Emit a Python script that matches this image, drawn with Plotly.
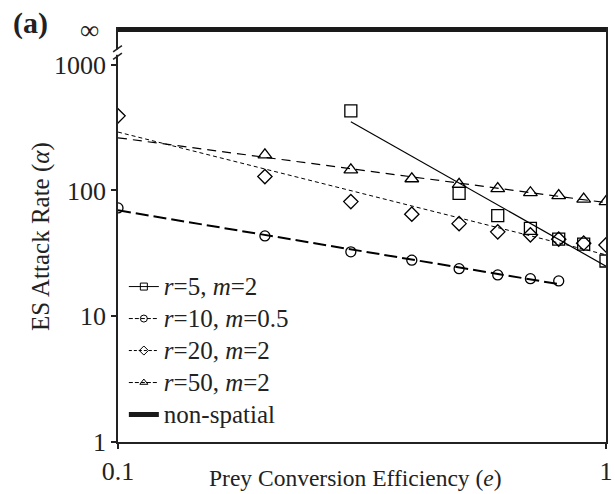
import numpy as np
import plotly.graph_objects as go

# Prey conversion efficiency (x) and ES attack rate for each parameter set
efficiency = [0.1, 0.2, 0.3, 0.4, 0.5, 0.6, 0.7, 0.8, 0.9, 1.0]
rate_r5_m2 = [None, None, 430, None, 95, 63, 50, 41, 37.4, 27.5]
rate_r10_m05 = [72.7, 43.5, 32.5, 27.9, 23.9, 21.3, 19.9, 19.1, None, None]
rate_r20_m2 = [392, 129, 81.6, 64.8, 54.5, 46.9, 44.4, 41, 38.1, 36.9]
rate_r50_m2 = [None, 192, 146, 124, 112, 103.5, 96, 91, 85.3, 81.6]

series_names = ["<i>r</i>=5, <i>m</i>=2", "<i>r</i>=10, <i>m</i>=0.5",
                "<i>r</i>=20, <i>m</i>=2", "<i>r</i>=50, <i>m</i>=2"]
series_rates = [rate_r5_m2, rate_r10_m05, rate_r20_m2, rate_r50_m2]
# first efficiency the fitted power-law trend is drawn from
trend_start = [None, None, None, 0.1]

y_tick_vals = [1, 10, 100, 1000]
x_tick_vals = [0.1, 1]
INF_LOG = 3.28          # where the "infinite" (non-spatial) level sits on the log axis
Y_TOP_LOG = 3.30

symbols = ["square-open", "circle-open", "diamond-open", "triangle-up-open"]
marker_sizes = [12, 10, 11, 12]
line_styles = [
    dict(color="black", width=1.2, dash="solid"),
    dict(color="black", width=2.0, dash="13px,5px"),
    dict(color="black", width=1.0, dash="4px,3px"),
    dict(color="black", width=1.2, dash="9px,6px"),
]
legend_dash = ["solid", "4px,2px", "3px,2px", "4px,2px"]


def legend_label(text):
    return '<span style="font-size:25px">' + text + "</span>"


fig = go.Figure()

for name, rates, sym, msize, lstyle, start, ldash in zip(series_names, series_rates, symbols,
                                                        marker_sizes, line_styles,
                                                        trend_start, legend_dash):
    pts = [(x, y) for x, y in zip(efficiency, rates) if y is not None]
    xs = np.array([p[0] for p in pts])
    ys = np.array([p[1] for p in pts])
    slope, icpt = np.polyfit(np.log10(xs), np.log10(ys), 1)
    x0 = start if start is not None else xs.min()
    tx = np.array([x0, xs.max()])
    ty = 10 ** (icpt + slope * np.log10(tx))
    # power-law trend
    fig.add_trace(go.Scatter(x=tx, y=ty, mode="lines", line=lstyle,
                             showlegend=False, hoverinfo="skip"))
    # data points
    fig.add_trace(go.Scatter(x=xs, y=ys, mode="markers", showlegend=False,
                             marker=dict(symbol=sym, size=msize, color="black",
                                         line=dict(color="black", width=1.3))))
    # legend entry showing line + symbol together
    fig.add_trace(go.Scatter(x=[None], y=[None], mode="lines+markers",
                             name=legend_label(name),
                             line=dict(color="black", width=1.0, dash=ldash),
                             marker=dict(symbol=sym, size=7, color="black",
                                         line=dict(color="black", width=1))))

# non-spatial model: attack rate is infinite
fig.add_trace(go.Scatter(x=[efficiency[0], efficiency[-1]], y=[10 ** INF_LOG] * 2,
                         mode="lines", name=legend_label("non-spatial"),
                         line=dict(color="#1a1a1a", width=5)))

font_family = "Liberation Serif, Times New Roman, serif"

fig.update_xaxes(type="log", range=[-1, 0], tickvals=x_tick_vals, ticktext=["0.1", "1"],
                 showline=True, linecolor="#222", linewidth=1.6, ticks="outside",
                 ticklen=5, tickwidth=1.5, tickcolor="#222", showgrid=False, zeroline=False,
                 ticklabeloverflow="allow", tickfont=dict(size=26, color="#222"))
fig.update_yaxes(type="log", range=[0, Y_TOP_LOG], tickvals=y_tick_vals,
                 ticktext=[str(v) for v in y_tick_vals],
                 showline=True, mirror=True, linecolor="#222", linewidth=1.6,
                 ticks="outside", ticklen=5, tickwidth=1.5, tickcolor="#222",
                 showgrid=False, zeroline=False, tickfont=dict(size=26, color="#222"))

annotations = [
    dict(text="∞", x=-0.058, xref="paper", y=INF_LOG, yref="y", showarrow=False,
         xanchor="center", yanchor="middle", font=dict(size=27, color="#222")),
    dict(text="<b>(a)</b>", x=-0.22, xref="paper", y=1.055, yref="paper", showarrow=False,
         xanchor="left", yanchor="top", font=dict(size=30, color="#222")),
    dict(text="ES Attack Rate (<i>α</i>)", x=-0.158, xref="paper", y=0.496, yref="paper",
         textangle=-90, showarrow=False, xanchor="center", yanchor="middle",
         font=dict(size=25, color="#222")),
    dict(text="Prey Conversion Efficiency (<i>e</i>)", x=0.487, xref="paper", y=-0.087,
         yref="paper", showarrow=False, xanchor="center", yanchor="middle",
         font=dict(size=23.5, color="#222")),
]

# axis break marks on the y axis
shapes = [
    dict(type="rect", xref="paper", yref="paper", x0=-0.006, x1=0.006, y0=0.933, y1=0.946,
         fillcolor="white", line=dict(width=0), layer="above"),
    dict(type="line", xref="paper", yref="paper", x0=-0.010, x1=0.008, y0=0.940, y1=0.955,
         line=dict(color="#222", width=1.6), layer="above"),
    dict(type="line", xref="paper", yref="paper", x0=-0.010, x1=0.008, y0=0.922, y1=0.937,
         line=dict(color="#222", width=1.6), layer="above"),
]

fig.update_layout(
    width=615, height=494,
    margin=dict(l=118, r=2, t=27, b=52),
    paper_bgcolor="white", plot_bgcolor="white",
    font=dict(family=font_family, color="#222"),
    annotations=annotations, shapes=shapes,
    legend=dict(x=0.012, y=0.0155, xanchor="left", yanchor="bottom",
                bgcolor="rgba(0,0,0,0)", font=dict(size=22.3, color="#222"),
                tracegroupgap=0, itemwidth=30),
)

fig.write_html("out.html")
